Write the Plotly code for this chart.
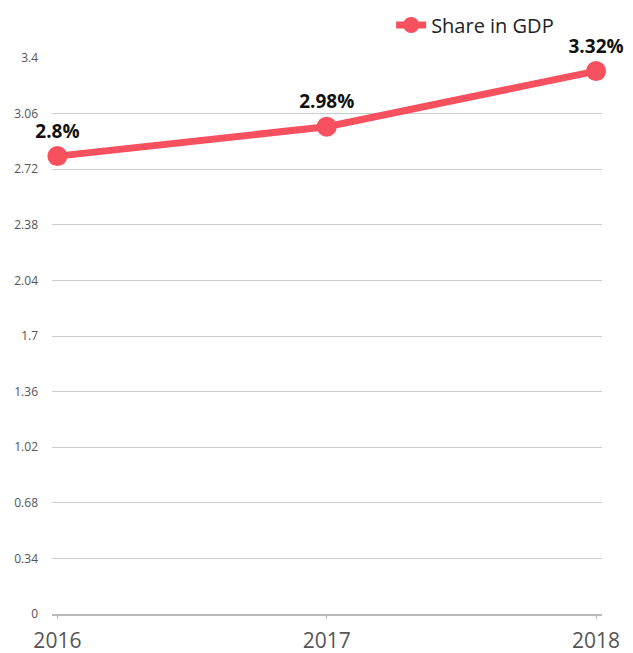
import plotly.graph_objects as go

years = [2016, 2017, 2018]
share_gdp = [2.8, 2.98, 3.32]
labels = ["2.8%", "2.98%", "3.32%"]
y_ticks = [0, 0.34, 0.68, 1.02, 1.36, 1.7, 2.04, 2.38, 2.72, 3.06, 3.4]
y_ticktext = ["0", "0.34", "0.68", "1.02", "1.36", "1.7", "2.04", "2.38", "2.72", "3.06", "3.4"]

red = "#f7505e"

fig = go.Figure()
fig.add_trace(go.Scatter(
    x=years,
    y=share_gdp,
    mode="lines+markers+text",
    text=labels,
    textposition="top center",
    textfont=dict(size=19, color="#111", family="Open Sans", weight="bold"),
    line=dict(color=red, width=7),
    marker=dict(color=red, size=20),
    cliponaxis=False,
    name="Share in GDP",
))

# the page body adds an 8px offset, so the figure is 8px smaller than the window
fig.update_layout(
    width=625, height=645,
    margin=dict(l=44, r=31, t=50, b=39),
    plot_bgcolor="white",
    paper_bgcolor="white",
    font=dict(family="Open Sans", color="#555"),
    showlegend=True,
    legend=dict(
        orientation="h",
        xref="container", yref="container",
        x=0.613, y=1 - 17 / 645, xanchor="left", yanchor="middle",
        font=dict(size=20, color="#222"),
        itemwidth=30,
        bgcolor="rgba(0,0,0,0)",
    ),
    xaxis=dict(
        range=[2015.98, 2018.022],
        tickvals=years,
        ticktext=[str(y) for y in years],
        tickfont=dict(size=21, color="#555"),
        showgrid=False,
        zeroline=False,
        showline=True,
        linecolor="#bbbbbb",
        linewidth=2,
        ticks="outside",
        ticklen=3,
        tickcolor="#bbbbbb",
        ticklabelstandoff=4,
        automargin=False,
    ),
    yaxis=dict(
        range=[0, 3.4],
        tickvals=y_ticks,
        ticktext=y_ticktext,
        tickfont=dict(size=12, color="#555"),
        showgrid=True,
        gridcolor="#cccccc",
        gridwidth=1,
        zeroline=False,
        ticks="",
        ticklabelstandoff=13,
        automargin=False,
    ),
)

fig.write_html("out.html")
